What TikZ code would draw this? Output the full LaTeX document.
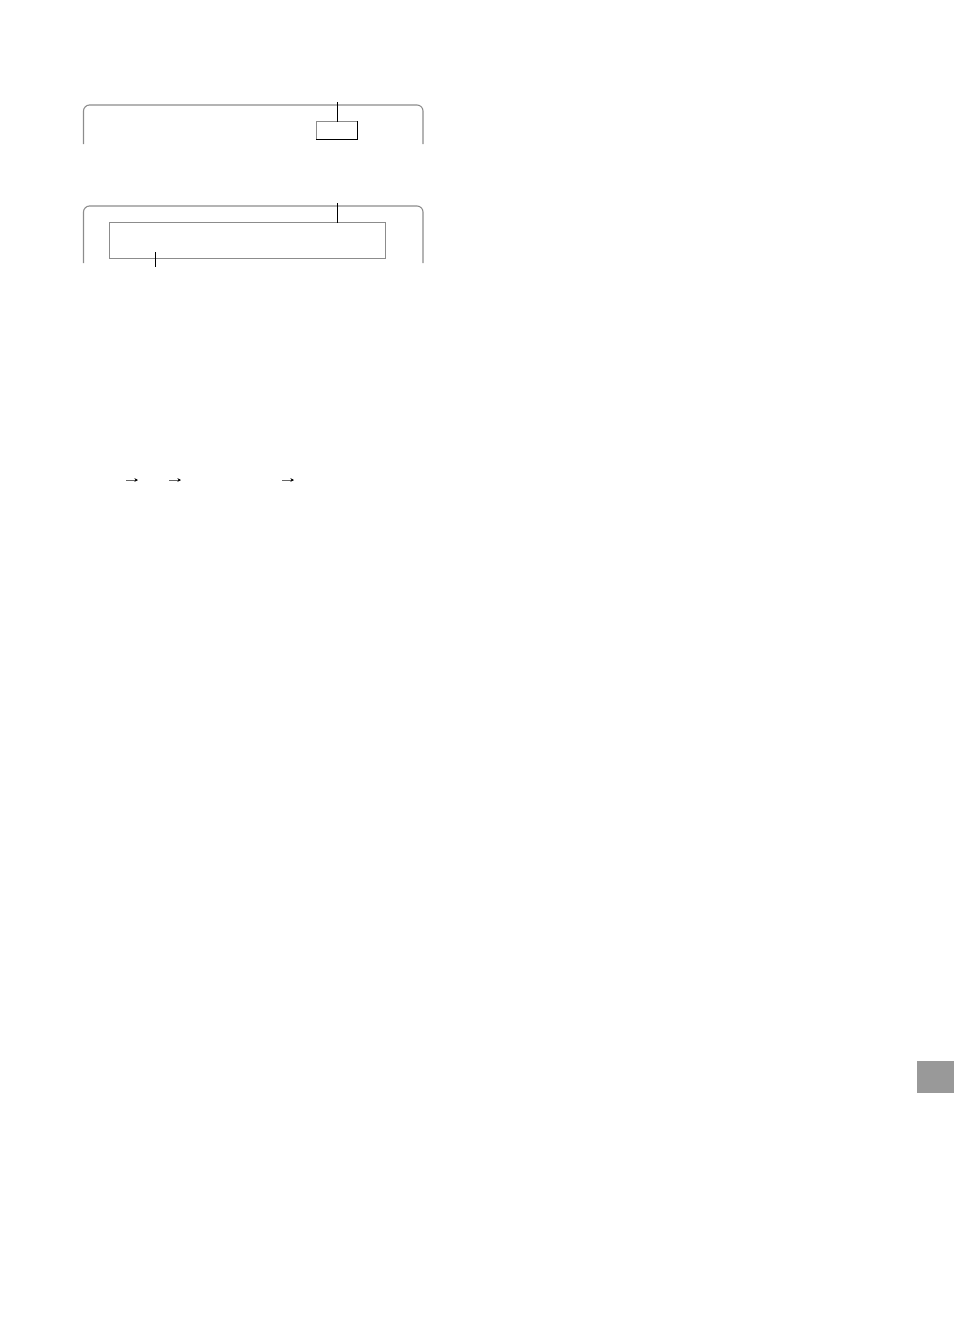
\documentclass[tikz,border=0pt]{standalone}
\usetikzlibrary{arrows.meta}
\begin{document}
\begin{tikzpicture}[x=1pt,y=-1pt,
  frame/.style={draw=black!45,line width=1.1pt,rounded corners=6pt},
  graybox/.style={draw=black!45,line width=1pt},
  leader/.style={draw=black,line width=0.9pt},
  smallarrow/.style={draw=black!60,line width=1pt,-{Stealth[length=3.5pt,width=3.5pt,black]}}]
\useasboundingbox (0,0) rectangle (954,1325);
% panel 1
\draw[frame] (83.5,144) -- (83.5,105) -- (423,105) -- (423,144);
\draw[graybox] (316,139) -- (316,121) -- (357,121);
\draw[leader] (357,121) -- (357,139) -- (316,139);
\coordinate (l1a) at (337,102);
\coordinate (l1b) at (337,122);
\draw[leader] (l1a) -- (l1b);
% panel 2
\draw[frame] (83.5,263) -- (83.5,206) -- (423,206) -- (423,263);
\draw[graybox] (109,222) rectangle (385,258);
\coordinate (l2a) at (337,203);
\coordinate (l2b) at (337,223);
\draw[leader] (l2a) -- (l2b);
\coordinate (l3a) at (155.5,252);
\coordinate (l3b) at (155.5,267);
\draw[leader] (l3a) -- (l3b);
% arrows
\coordinate (a1s) at (126,480); \coordinate (a1e) at (138,480);
\coordinate (a2s) at (169,480); \coordinate (a2e) at (181,480);
\coordinate (a3s) at (282,480); \coordinate (a3e) at (294,480);
\draw[smallarrow] (a1s) -- (a1e);
\draw[smallarrow] (a2s) -- (a2e);
\draw[smallarrow] (a3s) -- (a3e);
% grey tab
\fill[black!40] (917,1061) rectangle (954,1093);
\end{tikzpicture}
\end{document}
